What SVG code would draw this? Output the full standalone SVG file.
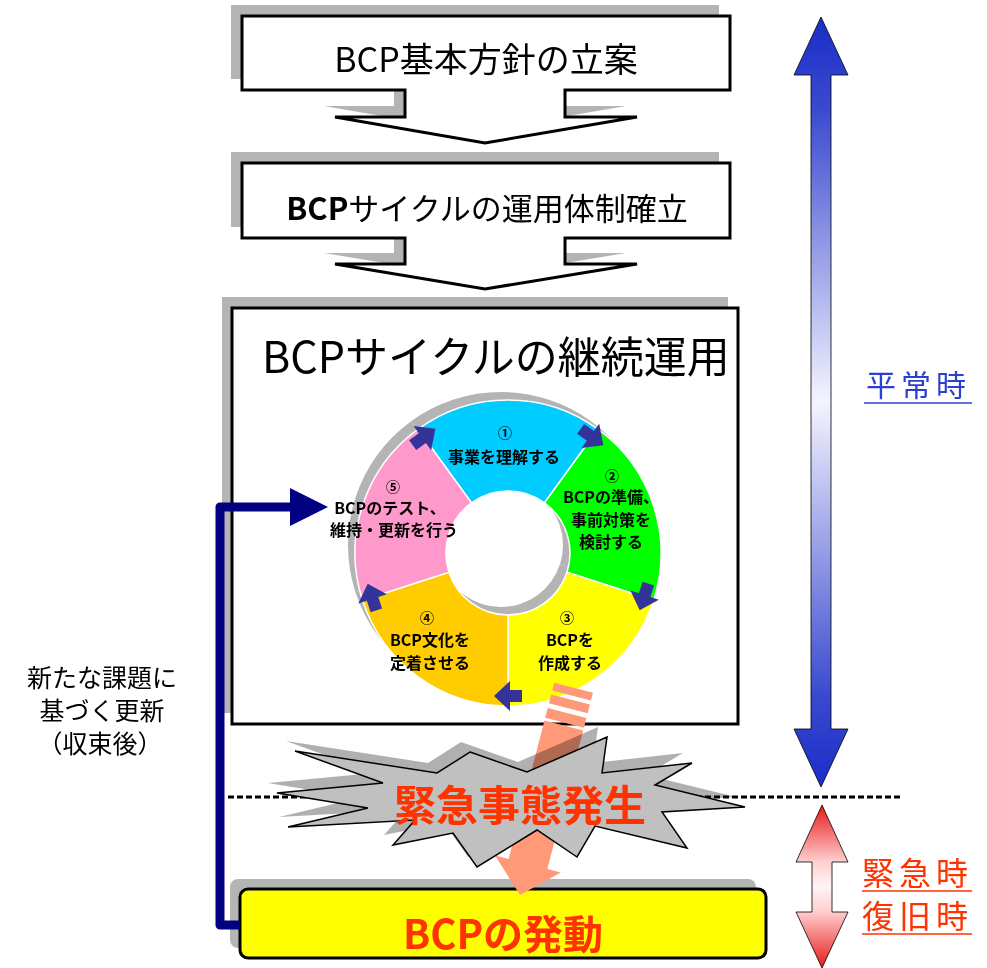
<svg xmlns="http://www.w3.org/2000/svg" width="987" height="968" viewBox="0 0 987 968">
<style>
.t{font-family:"Noto Sans CJK JP","Noto Sans CJK SC",sans-serif}
.box{fill:#fff;stroke:#000;stroke-width:3}
.sh{fill:#b4b4b4}
.seg{stroke:#fff;stroke-width:1.5}
.rt{font-family:"Noto Sans CJK JP","Noto Sans CJK SC",sans-serif;font-size:16px;font-weight:bold;fill:#000;text-anchor:middle}
.rn{font-size:14px}
.ra{fill:#333399}
.red{fill:#ff3300}
</style>
<defs>
<linearGradient id="gb" gradientUnits="userSpaceOnUse" x1="0" y1="17" x2="0" y2="787">
<stop offset="0" stop-color="#1a2dc8"/><stop offset="0.12" stop-color="#3a4acf"/><stop offset="0.5" stop-color="#f4f4ff"/><stop offset="0.88" stop-color="#3a4acf"/><stop offset="1" stop-color="#1a2dc8"/>
</linearGradient>
<linearGradient id="gr" gradientUnits="userSpaceOnUse" x1="0" y1="805" x2="0" y2="968">
<stop offset="0" stop-color="#e81818"/><stop offset="0.35" stop-color="#ffd0d0"/><stop offset="0.5" stop-color="#fff4f4"/><stop offset="0.65" stop-color="#ffd0d0"/><stop offset="1" stop-color="#e81818"/>
</linearGradient>
<path id="s1" d="M418.07,429.22 A153,153 0 0 1 597.93,429.22 L544.44,502.84 A62,62 0 0 0 471.56,502.84 Z"/>
<path id="s2" d="M597.93,429.22 A153,153 0 0 1 653.52,600.28 L566.97,572.16 A62,62 0 0 0 544.44,502.84 Z"/>
<path id="s3" d="M653.52,600.28 A153,153 0 0 1 508,706 L508,615 A62,62 0 0 0 566.97,572.16 Z"/>
<path id="s4" d="M508,706 A153,153 0 0 1 362.48,600.28 L449.03,572.16 A62,62 0 0 0 508,615 Z"/>
<path id="s5" d="M362.48,600.28 A153,153 0 0 1 418.07,429.22 L471.56,502.84 A62,62 0 0 0 449.03,572.16 Z"/>
<path id="ah" d="M-14,-6 L-2,-6 L-2,-15 L14,0 L-2,15 L-2,6 L-14,6 Z"/>
<polygon id="burst" points="470,752 527,772 607,737 602,773 692,763 655,785 745,807 662,812 687,848 595,826 577,857 537,830 477,867 453,833 393,845 415,820 288,827 368,808 277,793 383,783 295,751 437,773"/>
</defs>
<rect width="987" height="968" fill="#fff"/>

<g id="step1">
<path class="sh" transform="translate(-11,-11)" d="M242,16 H730 V90 H565 V117 H637 L485,143 L335,117 H405 V90 H242 Z"/>
<path class="box" d="M242,16 H730 V90 H565 V117 H637 L485,143 L335,117 H405 V90 H242 Z"/>
<text class="t" x="486" y="72" font-size="34" text-anchor="middle">BCP基本方針の立案</text>
</g>

<g id="step2">
<path class="sh" transform="translate(-11,-11)" d="M242,163 H730 V238 H565 V264 H637 L485,289 L335,264 H405 V238 H242 Z"/>
<path class="box" d="M242,163 H730 V238 H565 V264 H637 L485,289 L335,264 H405 V238 H242 Z"/>
<text class="t" x="487" y="220" font-size="31" text-anchor="middle"><tspan font-weight="bold">BCP</tspan>サイクルの運用体制確立</text>
</g>

<g id="step3">
<rect class="sh" x="222" y="297" width="506" height="416"/>
<rect class="box" x="232" y="308" width="506" height="416"/>
<text class="t" x="496" y="373" font-size="43" text-anchor="middle">BCPサイクルの継続運用</text>
</g>

<g id="cycle">
<g transform="translate(-7,-8)" class="sh">
<use href="#s1"/><use href="#s2"/><use href="#s3"/><use href="#s4"/><use href="#s5"/>
</g>
<use href="#s1" class="seg" fill="#00ccff"/>
<use href="#s2" class="seg" fill="#00ff00"/>
<use href="#s3" class="seg" fill="#ffff00"/>
<use href="#s4" class="seg" fill="#ffcc00"/>
<use href="#s5" class="seg" fill="#ff99cc"/>
<use href="#ah" class="ra" transform="translate(592,437) rotate(36)"/>
<use href="#ah" class="ra" transform="translate(644,597) rotate(108)"/>
<use href="#ah" class="ra" transform="translate(508,696) rotate(180)"/>
<use href="#ah" class="ra" transform="translate(372,597) rotate(252)"/>
<use href="#ah" class="ra" transform="translate(424,437) rotate(324)"/>
<text class="rt rn" x="505" y="438">①</text>
<text class="rt" x="504" y="463">事業を理解する</text>
<text class="rt rn" x="612" y="481">②</text>
<text class="rt" x="611" y="503">BCPの準備、</text>
<text class="rt" x="611" y="526">事前対策を</text>
<text class="rt" x="611" y="548">検討する</text>
<text class="rt rn" x="567" y="623">③</text>
<text class="rt" x="570" y="646">BCPを</text>
<text class="rt" x="570" y="669">作成する</text>
<text class="rt rn" x="427" y="623">④</text>
<text class="rt" x="430" y="646">BCP文化を</text>
<text class="rt" x="430" y="669">定着させる</text>
<text class="rt rn" x="393" y="492">⑤</text>
<text class="rt" x="390" y="514">BCPのテスト、</text>
<text class="rt" x="394" y="536">維持・更新を行う</text>
</g>

<g id="activation">
<rect class="sh" x="230" y="879" width="526" height="69" rx="8"/>
<rect x="240" y="889" width="526" height="69" rx="8" fill="#ffff00" stroke="#000" stroke-width="3"/>
<text class="t red" x="503" y="949" font-size="40" font-weight="bold" text-anchor="middle">BCPの発動</text>
</g>

<g id="connectors">
<g transform="translate(520,895) rotate(14.5)" fill="#ff9977">
<rect x="-20" y="-214" width="40" height="8"/>
<rect x="-20" y="-202" width="40" height="9"/>
<rect x="-20" y="-188" width="40" height="10"/>
<polygon points="0,0 -34,-32 -20,-32 -20,-175 20,-175 20,-32 34,-32"/>
</g>
<line x1="228" y1="797" x2="900" y2="797" stroke="#000" stroke-width="3" stroke-dasharray="6 3"/>
<path d="M240,925 H220 V507 H292" fill="none" stroke="#000080" stroke-width="9" stroke-linejoin="round"/>
<polygon points="290,488 328,507 290,526" fill="#000080"/>
</g>

<g id="emergency">
<use href="#burst" transform="translate(-9,-10)" fill="#b0b0b0" style="mix-blend-mode:multiply"/>
<use href="#burst" fill="#c0c0c0" stroke="#000" stroke-width="1.5" stroke-linejoin="miter"/>
<text class="t red" x="520" y="821" font-size="42" font-weight="bold" text-anchor="middle">緊急事態発生</text>
</g>

<g id="feedback-label">
<text class="t" font-size="25" text-anchor="middle" fill="#000" x="102" y="687">新たな課題に</text>
<text class="t" font-size="25" text-anchor="middle" fill="#000" x="102" y="720">基づく更新</text>
<text class="t" font-size="25" text-anchor="middle" fill="#000" x="100" y="753">（収束後）</text>
</g>

<g id="normal">
<polygon points="821,17 848,75 831,75 831,729 848,729 821,787 794,729 811,729 811,75 794,75" fill="url(#gb)" stroke="#000" stroke-width="0.8"/>
<text class="t" x="866" y="396" font-size="30" letter-spacing="5" fill="#2b3fd0">平常時</text>
<line x1="864" y1="403" x2="972" y2="403" stroke="#2b3fd0" stroke-width="1.5"/>
</g>

<g id="emergency-period">
<polygon points="822,805 848,862 832,862 832,912 848,912 822,968 796,912 812,912 812,862 796,862" fill="url(#gr)" stroke="#000" stroke-width="0.8"/>
<text class="t red" x="862" y="885" font-size="32" letter-spacing="5">緊急時</text>
<line x1="862" y1="891" x2="972" y2="891" stroke="#ff3300" stroke-width="1.5"/>
<text class="t red" x="862" y="928" font-size="32" letter-spacing="5">復旧時</text>
<line x1="862" y1="934" x2="972" y2="934" stroke="#ff3300" stroke-width="1.5"/>
</g>
</svg>
